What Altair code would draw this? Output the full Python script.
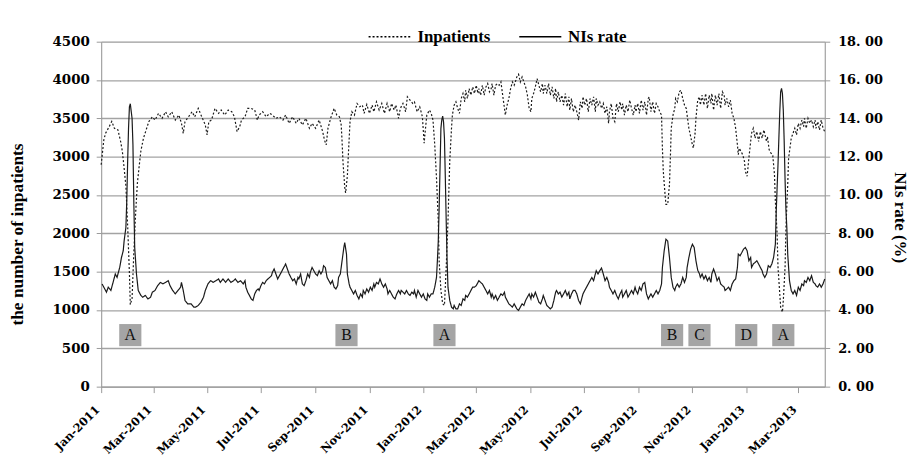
import altair as alt
import pandas as pd

START = pd.Timestamp("2011-01-01")

# (day offset from 2011-01-01, number of inpatients)
inpatients = [
    (0, 2895), (3, 3220), (5, 3305), (9, 3390), (12, 3460), (15, 3370), (19, 3350), (22, 3200),
    (24, 3070), (26, 2850), (28, 2620), (30, 2100), (32, 1480), (33, 1070), (35, 1150), (37, 1750),
    (39, 2250), (41, 2650), (43, 2870), (45, 3075), (48, 3245), (51, 3350), (54, 3457), (58, 3520),
    (61, 3478), (65, 3565), (69, 3500), (73, 3586), (76, 3520), (80, 3586), (84, 3478), (88, 3543),
    (91, 3435), (93, 3305), (95, 3457), (99, 3520), (103, 3586), (106, 3520), (110, 3630), (114, 3520),
    (118, 3414), (120, 3284), (122, 3457), (125, 3478), (129, 3630), (133, 3565), (136, 3608), (140, 3543),
    (144, 3608), (148, 3586), (151, 3520), (154, 3327), (157, 3392), (159, 3478), (163, 3520), (166, 3630),
    (170, 3630), (174, 3608), (177, 3478), (179, 3543), (183, 3586), (187, 3520), (191, 3565), (194, 3543),
    (198, 3500), (202, 3520), (206, 3478), (209, 3543), (213, 3435), (217, 3520), (221, 3435), (224, 3500),
    (228, 3414), (232, 3500), (236, 3370), (239, 3435), (243, 3370), (247, 3478), (251, 3327), (253, 3219),
    (255, 3154), (257, 3370), (260, 3500), (264, 3630), (267, 3543), (270, 3520), (272, 3414), (273, 3198),
    (274, 2938), (276, 2600), (277, 2528), (279, 2750), (280, 3000), (282, 3457), (284, 3586), (287, 3543),
    (290, 3694), (293, 3651), (296, 3673), (298, 3565), (301, 3681), (304, 3565), (307, 3673), (309, 3586),
    (312, 3716), (315, 3608), (318, 3694), (321, 3565), (324, 3694), (327, 3586), (329, 3694), (332, 3608),
    (334, 3673), (337, 3500), (339, 3630), (342, 3694), (345, 3586), (347, 3781), (350, 3738), (353, 3694),
    (355, 3716), (358, 3586), (361, 3651), (364, 3520), (366, 3176), (367, 3305), (369, 3543), (372, 3608),
    (374, 3565), (376, 3478), (378, 3154), (380, 2722), (382, 2161), (383, 1642), (385, 1254), (387, 1081),
    (389, 1060), (391, 1556), (393, 2161), (395, 2938), (397, 3370), (398, 3543), (400, 3673), (402, 3716),
    (404, 3630), (406, 3565), (408, 3759), (410, 3824), (412, 3716), (413, 3867), (415, 3759), (417, 3889),
    (419, 3802), (421, 3910), (423, 3824), (425, 3932), (427, 3824), (428, 3889), (430, 3802), (432, 3932),
    (434, 3802), (436, 3910), (438, 3954), (440, 3846), (442, 3889), (443, 3954), (445, 3802), (447, 3932),
    (449, 3954), (451, 3932), (453, 3975), (455, 3802), (457, 3630), (458, 3543), (460, 3673), (462, 3759),
    (464, 3889), (466, 3975), (468, 3932), (470, 4000), (471, 4040), (473, 4075), (475, 3975), (477, 4040),
    (479, 3975), (481, 3910), (483, 3802), (485, 3630), (487, 3586), (488, 3759), (490, 3824), (492, 3910),
    (494, 4018), (496, 3932), (498, 3846), (500, 3954), (501, 3824), (503, 3932), (505, 3824), (507, 3954),
    (509, 3802), (511, 3910), (513, 3759), (515, 3889), (516, 3716), (518, 3846), (520, 3716), (522, 3802),
    (524, 3673), (526, 3824), (528, 3651), (530, 3781), (531, 3608), (533, 3759), (535, 3586), (537, 3673),
    (539, 3586), (541, 3478), (543, 3716), (545, 3630), (546, 3781), (548, 3673), (550, 3759), (552, 3586),
    (554, 3759), (556, 3673), (558, 3781), (560, 3586), (561, 3759), (563, 3673), (565, 3716), (567, 3630),
    (569, 3694), (571, 3565), (573, 3651), (575, 3435), (576, 3586), (578, 3694), (580, 3500), (582, 3457),
    (584, 3694), (586, 3586), (588, 3716), (590, 3608), (591, 3694), (593, 3543), (595, 3673), (597, 3586),
    (599, 3738), (601, 3630), (603, 3543), (605, 3673), (606, 3586), (608, 3694), (610, 3565), (612, 3738),
    (614, 3608), (616, 3716), (618, 3543), (620, 3759), (621, 3781), (623, 3586), (625, 3716), (627, 3565),
    (629, 3694), (631, 3651), (633, 3586), (635, 3543), (636, 3111), (637, 2809), (639, 2506), (640, 2377),
    (642, 2377), (644, 2636), (645, 2982), (646, 3370), (648, 3543), (650, 3630), (651, 3759), (653, 3716),
    (655, 3846), (657, 3867), (659, 3759), (661, 3673), (663, 3630), (664, 3543), (666, 3370), (668, 3262),
    (670, 3154), (671, 3111), (673, 3300), (674, 3500), (676, 3738), (678, 3781), (679, 3673), (681, 3802),
    (683, 3673), (685, 3824), (687, 3630), (689, 3802), (691, 3694), (692, 3824), (694, 3608), (696, 3802),
    (698, 3673), (700, 3824), (702, 3630), (704, 3846), (706, 3802), (707, 3673), (709, 3759), (711, 3651),
    (713, 3738), (715, 3565), (717, 3500), (719, 3370), (721, 3154), (722, 3025), (723, 3111), (725, 3070),
    (727, 3025), (729, 2938), (730, 2809), (732, 2744), (734, 2982), (736, 3198), (737, 3305), (739, 3370),
    (741, 3240), (743, 3327), (745, 3198), (747, 3327), (749, 3240), (751, 3349), (754, 3198), (755, 3262),
    (757, 3089), (759, 3046), (761, 3025), (763, 2766), (764, 2420), (766, 1988), (767, 1556), (769, 1210),
    (770, 1038), (772, 973), (773, 1124), (775, 1556), (776, 2074), (778, 2636), (779, 2982), (781, 3154),
    (782, 3241), (784, 3305), (786, 3370), (788, 3284), (790, 3435), (792, 3370), (794, 3478), (796, 3392),
    (797, 3500), (799, 3370), (801, 3500), (803, 3435), (805, 3478), (807, 3392), (809, 3478), (810, 3370),
    (812, 3457), (814, 3349), (816, 3478), (818, 3370), (820, 3327),
]

# (day offset from 2011-01-01, NIs rate in %)
nis_rate = [
    (1, 5.36), (3, 5.19), (6, 4.93), (8, 5.19), (11, 5.02), (14, 5.53), (16, 5.88), (18, 5.70),
    (21, 6.22), (23, 6.74), (25, 7.09), (26, 7.60), (28, 8.30), (29, 9.68), (30, 11.75), (31, 13.48),
    (32, 14.60), (33, 14.76), (35, 14.00), (36, 12.62), (37, 9.60), (38, 7.26), (40, 5.88), (42, 5.02),
    (45, 4.76), (47, 4.67), (50, 4.76), (53, 4.58), (56, 4.67), (58, 4.93), (61, 5.02), (64, 5.27),
    (67, 5.44), (70, 5.36), (73, 5.44), (76, 5.53), (78, 5.27), (81, 5.02), (84, 4.84), (87, 5.02),
    (90, 5.19), (91, 5.44), (93, 5.02), (95, 4.50), (98, 4.32), (102, 4.32), (105, 4.15), (107, 4.15),
    (110, 4.24), (113, 4.40), (116, 4.67), (118, 5.02), (121, 5.36), (124, 5.53), (127, 5.44), (130, 5.53),
    (133, 5.62), (135, 5.44), (138, 5.62), (141, 5.44), (144, 5.62), (147, 5.44), (150, 5.53), (152, 5.62),
    (155, 5.44), (158, 5.53), (161, 5.36), (163, 5.53), (164, 5.19), (166, 4.93), (168, 4.76), (170, 4.58),
    (172, 4.50), (174, 4.84), (176, 5.02), (178, 5.10), (179, 5.02), (181, 5.27), (183, 5.44), (185, 5.36),
    (187, 5.53), (189, 5.62), (191, 5.70), (193, 5.79), (194, 5.96), (196, 6.14), (198, 5.88), (200, 5.62),
    (202, 5.79), (204, 5.96), (206, 6.14), (208, 6.31), (209, 6.40), (211, 6.14), (213, 5.88), (215, 5.70),
    (217, 5.53), (219, 5.62), (221, 5.36), (223, 5.70), (224, 5.62), (226, 5.88), (228, 5.36), (230, 5.27),
    (232, 5.53), (234, 5.88), (236, 5.70), (237, 5.96), (239, 6.22), (241, 6.05), (243, 5.88), (245, 5.79),
    (247, 6.05), (249, 5.88), (251, 6.05), (252, 6.31), (254, 6.22), (256, 5.70), (258, 5.53), (260, 5.36),
    (262, 5.53), (264, 5.19), (266, 5.10), (268, 5.27), (269, 5.70), (271, 5.88), (273, 6.57), (275, 7.26),
    (276, 7.52), (278, 6.92), (279, 5.88), (281, 5.36), (282, 5.19), (284, 5.02), (286, 4.84), (288, 5.02),
    (290, 4.76), (292, 4.58), (294, 4.84), (296, 4.67), (297, 5.02), (299, 4.84), (301, 5.10), (303, 4.93),
    (305, 5.19), (307, 5.02), (309, 5.36), (310, 5.19), (312, 5.44), (314, 5.36), (316, 5.62), (318, 5.36),
    (320, 5.19), (322, 5.36), (324, 5.10), (325, 4.84), (327, 5.02), (329, 4.84), (331, 4.67), (333, 4.58),
    (335, 4.84), (337, 5.02), (339, 4.84), (340, 5.02), (342, 4.93), (344, 4.84), (346, 5.02), (348, 4.84),
    (350, 4.76), (352, 4.93), (354, 4.84), (355, 5.02), (357, 4.67), (359, 5.02), (361, 4.84), (363, 4.67),
    (365, 4.84), (367, 4.58), (369, 4.50), (370, 4.84), (372, 4.67), (374, 4.84), (376, 4.84), (378, 5.19),
    (380, 5.70), (381, 6.57), (382, 7.60), (383, 9.33), (384, 11.41), (385, 13.48), (386, 13.92), (387, 14.12),
    (388, 13.80), (389, 12.96), (390, 10.89), (391, 8.64), (392, 6.57), (393, 5.19), (395, 4.50), (397, 4.15),
    (399, 4.06), (400, 4.24), (402, 4.06), (404, 4.06), (406, 4.32), (408, 4.24), (410, 4.58), (412, 4.50),
    (413, 4.76), (415, 4.67), (417, 4.84), (419, 5.02), (421, 5.19), (423, 5.19), (425, 5.27), (427, 5.44),
    (428, 5.53), (430, 5.44), (432, 5.36), (434, 5.19), (436, 5.02), (438, 4.84), (440, 5.02), (442, 4.67),
    (443, 4.84), (445, 4.58), (447, 4.76), (449, 4.50), (451, 4.67), (453, 4.84), (455, 4.76), (457, 4.93),
    (458, 4.67), (460, 4.50), (462, 4.32), (464, 4.24), (466, 4.15), (468, 4.32), (470, 4.15), (471, 4.06),
    (473, 3.98), (475, 4.15), (477, 4.32), (479, 4.24), (481, 4.50), (483, 4.67), (485, 4.84), (487, 4.58),
    (488, 4.84), (490, 4.67), (492, 4.93), (494, 4.67), (496, 4.41), (498, 4.32), (500, 4.58), (501, 4.76),
    (503, 4.50), (505, 4.24), (507, 4.15), (509, 4.06), (511, 4.15), (513, 4.50), (515, 4.93), (516, 5.02),
    (518, 4.84), (520, 4.93), (522, 4.67), (524, 4.84), (526, 5.02), (528, 4.76), (530, 4.93), (531, 4.58),
    (533, 4.84), (535, 5.02), (537, 5.02), (539, 4.84), (541, 4.50), (543, 4.32), (545, 4.67), (546, 4.84),
    (548, 5.02), (550, 5.19), (552, 5.36), (554, 5.53), (556, 5.70), (558, 5.53), (560, 5.88), (561, 6.05),
    (563, 5.88), (565, 6.05), (567, 6.19), (569, 5.88), (571, 5.53), (573, 5.70), (575, 5.44), (576, 5.19),
    (578, 5.02), (580, 4.84), (582, 5.02), (584, 4.76), (586, 4.58), (588, 4.84), (590, 5.02), (591, 4.67),
    (593, 4.84), (595, 5.02), (597, 4.67), (599, 4.84), (601, 5.02), (603, 4.84), (605, 5.19), (606, 5.02),
    (608, 4.84), (610, 5.19), (612, 5.02), (614, 5.36), (616, 5.44), (618, 4.84), (620, 4.58), (621, 4.67),
    (623, 4.84), (625, 4.67), (627, 4.84), (629, 5.02), (631, 4.84), (633, 5.02), (635, 5.36), (636, 6.22),
    (638, 7.09), (640, 7.69), (642, 7.60), (644, 6.74), (646, 5.70), (648, 5.19), (650, 5.02), (651, 5.19),
    (653, 5.36), (655, 5.19), (657, 5.36), (659, 5.70), (661, 5.44), (663, 5.70), (664, 6.22), (666, 6.74),
    (668, 7.18), (670, 7.43), (672, 7.26), (674, 6.57), (676, 6.08), (678, 5.88), (679, 5.70), (681, 5.88),
    (683, 5.62), (685, 5.79), (687, 5.53), (689, 5.70), (691, 5.44), (692, 5.88), (694, 6.14), (696, 5.88),
    (698, 5.53), (700, 5.70), (702, 5.36), (704, 5.27), (706, 5.19), (707, 5.02), (709, 5.10), (711, 5.19),
    (713, 5.02), (715, 5.36), (717, 5.53), (719, 5.62), (721, 6.22), (722, 6.92), (724, 6.83), (726, 7.00),
    (728, 7.18), (730, 7.26), (732, 7.09), (734, 6.57), (736, 6.74), (737, 6.22), (739, 6.40), (741, 6.48),
    (743, 6.57), (745, 6.40), (747, 6.22), (749, 6.05), (750, 5.88), (752, 5.70), (754, 5.88), (756, 6.31),
    (758, 6.22), (760, 6.40), (762, 6.74), (764, 7.43), (765, 9.16), (766, 10.40), (767, 11.60), (768, 13.00),
    (769, 14.34), (770, 15.38), (771, 15.56), (772, 15.30), (773, 14.40), (774, 12.80), (775, 10.80), (776, 9.20),
    (777, 8.30), (778, 6.92), (779, 6.22), (780, 5.53), (782, 5.02), (784, 4.84), (786, 5.02), (788, 4.76),
    (790, 5.19), (792, 5.02), (794, 5.36), (796, 5.27), (797, 5.53), (799, 5.44), (801, 5.70), (803, 5.53),
    (805, 5.79), (807, 5.44), (809, 5.36), (810, 5.27), (812, 5.19), (814, 5.36), (816, 5.19), (818, 5.36),
    (820, 5.62),
]

ann_labels = ["A", "B", "A", "B", "C", "D", "A"]
ann_days = [33, 278, 389, 647, 678, 731, 773]
ann_level = 672

tick_months = [(2011, 1), (2011, 3), (2011, 5), (2011, 7), (2011, 9), (2011, 11),
               (2012, 1), (2012, 3), (2012, 5), (2012, 7), (2012, 9), (2012, 11),
               (2013, 1), (2013, 3)]


def to_date(d):
    return (START + pd.Timedelta(days=d)).strftime("%Y-%m-%dT00:00:00")


df_inp = pd.DataFrame({
    "date": [to_date(d) for d, _ in inpatients],
    "value": [v for _, v in inpatients],
    "series": "Inpatients",
})
df_rate = pd.DataFrame({
    "date": [to_date(d) for d, _ in nis_rate],
    "rate": [v for _, v in nis_rate],
    "series": "NIs rate",
})
df_ann = pd.DataFrame({
    "date": [to_date(d) for d in ann_days],
    "value": [ann_level] * len(ann_days),
    "label": ann_labels,
})

AXIS_GRAY = "#9a9a9a"

x_enc = alt.X(
    "date:T",
    scale=alt.Scale(domain=[alt.DateTime(year=2011, month=1, date=1),
                            alt.DateTime(year=2013, month=3, date=31)]),
    axis=alt.Axis(
        values=[alt.DateTime(year=y, month=m, date=1) for y, m in tick_months],
        format="%b-%Y", labelAngle=-45, labelAlign="right", labelBaseline="bottom",
        labelPadding=19, tickSize=6, grid=False, title=None,
        labelFont="DejaVu Serif", labelFontWeight="bold", labelFontSize=11.5,
        labelColor="black", domainColor=AXIS_GRAY, tickColor=AXIS_GRAY,
        labelOverlap=False, labelFlush=False,
    ),
    title=None,
)

left_scale = alt.Scale(domain=[0, 4500], nice=False)
left_axis = alt.Axis(
    orient="left", values=list(range(0, 4501, 500)), format="d", labelOverlap=False,
    title="the number of inpatients", titleFont="Liberation Serif",
    titleFontWeight="bold", titleFontSize=17.5, titleColor="black",
    titleX=-84, titleY=194, titleAngle=-90, titleAlign="center", titleBaseline="middle",
    labelFont="DejaVu Serif", labelFontWeight="bold", labelFontSize=13.5,
    labelColor="black", labelPadding=7, tickSize=5,
    grid=True, gridColor="#a3a3a3", gridWidth=1.3,
    domainColor=AXIS_GRAY, tickColor=AXIS_GRAY,
)

y_left = alt.Y("value:Q", scale=left_scale, axis=left_axis, title="the number of inpatients")

y_right = alt.Y(
    "rate:Q", scale=alt.Scale(domain=[0, 18], nice=False),
    axis=alt.Axis(
        orient="right", values=list(range(0, 19, 2)), labelOverlap=False,
        labelExpr="replace(format(datum.value, '.2f'), '.', '. ')",
        title="NIs rate (%)", titleFont="Liberation Serif", titleFontWeight="bold",
        titleFontSize=17, titleColor="black",
        titleX=75, titleY=177, titleAngle=90, titleAlign="center", titleBaseline="middle",
        labelFont="DejaVu Serif", labelFontWeight="bold", labelFontSize=13,
        labelColor="black", labelPadding=8, tickSize=5, grid=False,
        domainColor=AXIS_GRAY, tickColor=AXIS_GRAY,
    ),
    title="NIs rate (%)",
)

dash_enc = alt.StrokeDash(
    "series:N",
    scale=alt.Scale(domain=["Inpatients", "NIs rate"], range=[[2, 2], [1, 0]]),
    legend=alt.Legend(
        title=None, orient="none", legendX=269, legendY=-27, direction="horizontal",
        symbolType="stroke", symbolSize=1800, symbolStrokeWidth=1.3,
        symbolStrokeColor="black", labelFont="Liberation Serif", labelFontWeight="bold",
        labelFontSize=17, labelColor="black", labelOffset=6, columnPadding=26,
        labelLimit=300,
    ),
)

boxes = alt.Chart(df_ann).mark_square(size=500, color="#a5a5a5", opacity=1, filled=True).encode(
    x=x_enc, y=y_left
)
letters = alt.Chart(df_ann).mark_text(font="Liberation Serif", fontSize=16, color="#111111",
                                      baseline="middle", align="center").encode(
    x=x_enc, y=y_left, text="label:N"
)
inp_line = alt.Chart(df_inp).mark_line(color="#1a1a1a", strokeWidth=1.2).encode(
    x=x_enc, y=y_left, strokeDash=dash_enc
)
rate_line = alt.Chart(df_rate).mark_line(color="#1a1a1a", strokeWidth=1.2).encode(
    x=x_enc, y=y_right, strokeDash=dash_enc
)

chart = alt.layer(
    alt.layer(inp_line, boxes, letters),
    rate_line,
).resolve_scale(y="independent").properties(
    width=730, height=348,
    autosize=alt.AutoSizeParams(type="none"),
    padding={"left": 94, "top": 32, "right": 89, "bottom": 71},
).configure_view(stroke=None).configure(background="white")

chart.save("out.html", embed_options={"renderer": "svg", "actions": False})
